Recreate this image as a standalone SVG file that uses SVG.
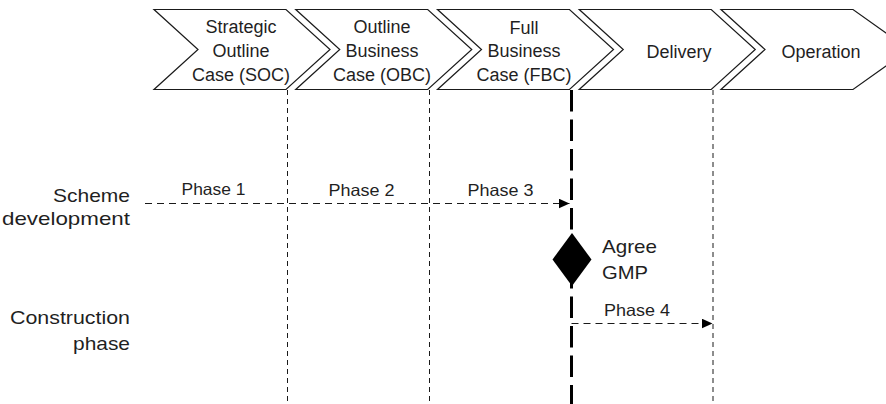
<svg xmlns="http://www.w3.org/2000/svg" width="886" height="404" viewBox="0 0 886 404">
  <style>
    .chev { fill: #ffffff; stroke: #1a1a1a; stroke-width: 1.2; stroke-linejoin: miter; }
    .t { font-family: "Liberation Sans", Arial, Helvetica, sans-serif; fill: #1f1f1f; }
    .ct { font-size: 18px; text-anchor: middle; }
    .lt { font-size: 19px; text-anchor: end; }
    .pt { font-size: 16.5px; text-anchor: middle; }
    .gate { stroke: #1a1a1a; stroke-width: 1; stroke-dasharray: 5 4; fill: none; }
    .key { stroke: #000000; stroke-width: 3; stroke-dasharray: 21.5 8; fill: none; }
    .flow { stroke: #1a1a1a; stroke-width: 1.2; stroke-dasharray: 7 5; fill: none; }
  </style>
  <defs>
    <marker id="arrow" viewBox="0 0 11 10" refX="11" refY="5" markerWidth="11" markerHeight="10" markerUnits="userSpaceOnUse" orient="auto">
      <path d="M0,0 L11,5 L0,10 Z" fill="#000000"/>
    </marker>
  </defs>

  <!-- Stage chevrons -->
  <g id="stage-soc">
    <polygon class="chev" points="154,9.5 286,9.5 330,49.5 286,89.5 154,89.5 198,49.5"/>
    <text class="t ct" x="241" y="33">Strategic</text>
    <text class="t ct" x="241" y="57">Outline</text>
    <text class="t ct" x="241" y="80.5">Case (SOC)</text>
  </g>
  <g id="stage-obc">
    <polygon class="chev" points="295.75,9.5 427.75,9.5 471.75,49.5 427.75,89.5 295.75,89.5 339.75,49.5"/>
    <text class="t ct" x="382" y="33">Outline</text>
    <text class="t ct" x="382" y="57">Business</text>
    <text class="t ct" x="382" y="80.5">Case (OBC)</text>
  </g>
  <g id="stage-fbc">
    <polygon class="chev" points="437.5,9.5 569.5,9.5 613.5,49.5 569.5,89.5 437.5,89.5 481.5,49.5"/>
    <text class="t ct" x="524" y="33.5">Full</text>
    <text class="t ct" x="524" y="57">Business</text>
    <text class="t ct" x="524" y="80.5">Case (FBC)</text>
  </g>
  <g id="stage-delivery">
    <polygon class="chev" points="579.25,9.5 711.25,9.5 755.25,49.5 711.25,89.5 579.25,89.5 623.25,49.5"/>
    <text class="t ct" x="679" y="57.5">Delivery</text>
  </g>
  <g id="stage-operation">
    <polygon class="chev" points="721,9.5 853,9.5 909,49.5 853,89.5 721,89.5 765,49.5"/>
    <text class="t ct" x="821" y="57.5">Operation</text>
  </g>

  <!-- Row labels -->
  <g id="row-scheme">
    <text class="t lt" x="130" y="202" textLength="77" lengthAdjust="spacingAndGlyphs">Scheme</text>
    <text class="t lt" x="130" y="225" textLength="128" lengthAdjust="spacingAndGlyphs">development</text>
  </g>
  <g id="row-construction">
    <text class="t lt" x="130" y="324" textLength="120" lengthAdjust="spacingAndGlyphs">Construction</text>
    <text class="t lt" x="130" y="350" textLength="57" lengthAdjust="spacingAndGlyphs">phase</text>
  </g>

  <!-- Connectors: stage gates and phase flows -->
  <g id="connectors">
    <line class="gate" x1="287.5" y1="90" x2="287.5" y2="404"/>
    <line class="gate" x1="429.5" y1="90" x2="429.5" y2="404"/>
    <line class="gate" x1="713" y1="90" x2="713" y2="404"/>
    <line class="key" x1="571.5" y1="90" x2="571.5" y2="404"/>

    <line class="flow" x1="145" y1="203.5" x2="569.5" y2="203.5" marker-end="url(#arrow)"/>
    <line class="flow" x1="571.5" y1="323.5" x2="712.5" y2="323.5" marker-end="url(#arrow)"/>

    <text class="t pt" x="213.5" y="195" textLength="64" lengthAdjust="spacingAndGlyphs">Phase 1</text>
    <text class="t pt" x="361.5" y="196" textLength="66" lengthAdjust="spacingAndGlyphs">Phase 2</text>
    <text class="t pt" x="500.5" y="196" textLength="66" lengthAdjust="spacingAndGlyphs">Phase 3</text>
    <text class="t pt" x="637" y="316" textLength="66" lengthAdjust="spacingAndGlyphs">Phase 4</text>
  </g>

  <!-- Decision milestone -->
  <g id="milestone-gmp">
    <polygon points="572,233 591.5,259.5 572,286 552.5,259.5" fill="#000000"/>
    <text class="t" font-size="19px" x="602" y="253" textLength="55" lengthAdjust="spacingAndGlyphs">Agree</text>
    <text class="t" font-size="19px" x="602" y="279" textLength="46" lengthAdjust="spacingAndGlyphs">GMP</text>
  </g>
</svg>
